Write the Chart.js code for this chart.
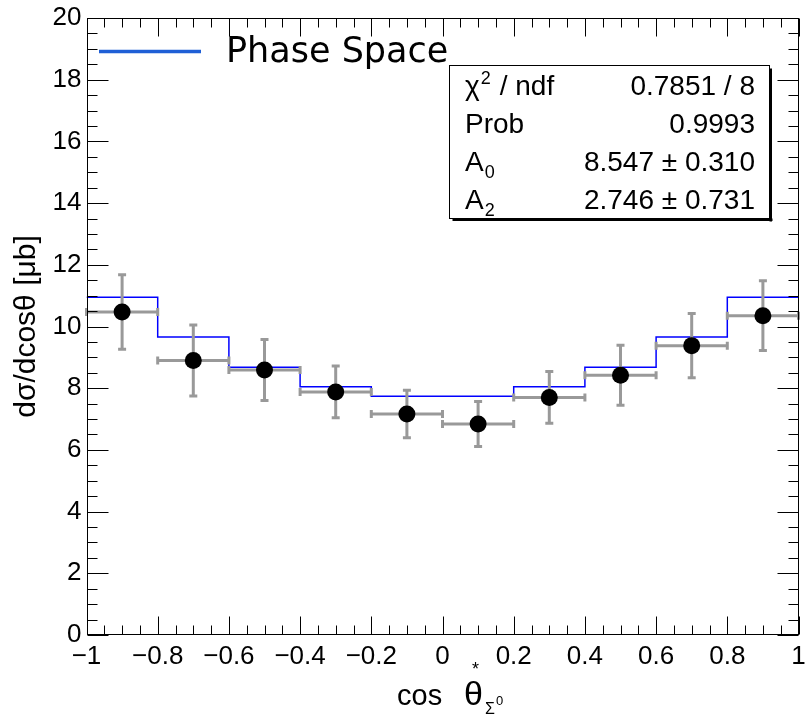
<!DOCTYPE html>
<html lang="en">
<head>
    <meta charset="UTF-8">
    <title>Sigma0 angular distribution</title>
    <script src="https://cdn.jsdelivr.net/npm/chart.js"></script>
    <style>
        body {
            margin: 0;
            background-color: white;
        }
        #plot {
            display: block;
        }
    </style>
</head>
<body>
    <canvas id="plot" width="807" height="715"></canvas>

    <script>
        // Measured points (bin centres, cross section, errors)
        const binCenters = [-0.9, -0.7, -0.5, -0.3, -0.1, 0.1, 0.3, 0.5, 0.7, 0.9];
        const xsec = [10.47, 8.90, 8.59, 7.88, 7.16, 6.84, 7.70, 8.42, 9.38, 10.35];
        const xsecErr = [1.21, 1.15, 0.99, 0.84, 0.77, 0.73, 0.84, 0.97, 1.04, 1.13];
        const xErr = [0.1, 0.1, 0.1, 0.1, 0.1, 0.1, 0.1, 0.1, 0.1, 0.1];

        // Phase space histogram
        const binEdges = [-1, -0.8, -0.6, -0.4, -0.2, 0, 0.2, 0.4, 0.6, 0.8, 1];
        const phaseSpace = [10.95, 9.66, 8.68, 8.05, 7.74, 7.74, 8.05, 8.68, 9.66, 10.95];

        // Fit results box
        const statNames = ['χ', 'Prob', 'A', 'A'];
        const statValues = ['0.7851 / 8', '0.9993', '8.547 ± 0.310', '2.746 ± 0.731'];

        const legendLabel = 'Phase Space';
        const yTitle = 'dσ/dcosθ [μb]';

        const points = binCenters.map((x, i) => ({ x: x, y: xsec[i] }));
        const histPoints = binEdges.map((x, i) => ({ x: x, y: phaseSpace[Math.min(i, phaseSpace.length - 1)] }));

        const HELV = '"Liberation Sans", Arial, sans-serif';

        // error bars with caps, drawn before the markers
        const errorBars = {
            id: 'errorBars',
            beforeDatasetDraw(chart, args) {
                if (args.index !== 0) return;
                const c = chart.ctx, xs = chart.scales.x, ys = chart.scales.y;
                const cap = 4;
                c.save();
                c.strokeStyle = '#999999';
                c.lineWidth = 3;
                binCenters.forEach((x, i) => {
                    const px = xs.getPixelForValue(x);
                    const py = ys.getPixelForValue(xsec[i]);
                    const x1 = xs.getPixelForValue(x - xErr[i]);
                    const x2 = xs.getPixelForValue(x + xErr[i]);
                    const y1 = ys.getPixelForValue(xsec[i] + xsecErr[i]);
                    const y2 = ys.getPixelForValue(xsec[i] - xsecErr[i]);
                    c.beginPath();
                    c.moveTo(x1, py); c.lineTo(x2, py);
                    c.moveTo(px, y1); c.lineTo(px, y2);
                    c.moveTo(x1, py - cap); c.lineTo(x1, py + cap);
                    c.moveTo(x2, py - cap); c.lineTo(x2, py + cap);
                    c.moveTo(px - cap, y1); c.lineTo(px + cap, y1);
                    c.moveTo(px - cap, y2); c.lineTo(px + cap, y2);
                    c.stroke();
                });
                c.restore();
            }
        };

        // frame, inside ticks on all sides, legend, stats box, x title
        const decorations = {
            id: 'decorations',
            beforeDraw(chart) {
                const c = chart.ctx;
                c.save();
                c.fillStyle = 'white';
                c.fillRect(0, 0, chart.width, chart.height);
                c.restore();
            },
            afterDraw(chart) {
                const c = chart.ctx, a = chart.chartArea;
                const xs = chart.scales.x, ys = chart.scales.y;
                const L = Math.round(a.left) + 0.5, R = Math.round(a.right) - 0.5;
                const T = Math.round(a.top) + 0.5, B = Math.round(a.bottom) - 0.5;
                c.save();
                c.strokeStyle = '#000';
                c.lineWidth = 1;
                c.strokeRect(L, T, R - L, B - T);

                c.beginPath();
                for (let i = 0; i <= 40; i++) {
                    const v = -1 + i * 0.05;
                    const px = Math.round(xs.getPixelForValue(v)) + 0.5;
                    const len = i % 4 === 0 ? 18 : 9;
                    c.moveTo(px, B); c.lineTo(px, B - len);
                    c.moveTo(px, T); c.lineTo(px, T + len);
                }
                for (let i = 0; i <= 40; i++) {
                    const v = i * 0.5;
                    const py = Math.round(ys.getPixelForValue(v)) + 0.5;
                    const len = i % 4 === 0 ? 21 : 10;
                    c.moveTo(L, py); c.lineTo(L + len, py);
                    c.moveTo(R, py); c.lineTo(R - len, py);
                }
                c.stroke();

                // legend
                c.strokeStyle = '#1f5fd6';
                c.lineWidth = 3.5;
                c.beginPath();
                c.moveTo(99, 51.5); c.lineTo(201, 51.5);
                c.stroke();
                c.fillStyle = '#000';
                c.font = '35px "DejaVu Sans", sans-serif';
                c.textBaseline = 'alphabetic';
                c.textAlign = 'left';
                c.fillText(legendLabel, 226, 62);

                // stats box
                const bl = 449.5, bt = 65.5, br = 769.5, bb = 218.5;
                c.fillStyle = 'white';
                c.fillRect(bl, bt, br - bl, bb - bt);
                c.fillStyle = '#000';
                c.fillRect(br, bt + 3, 2.5, bb - bt);
                c.fillRect(bl + 3, bb, br - bl, 2.5);
                c.lineWidth = 1;
                c.strokeStyle = '#000';
                c.strokeRect(bl, bt, br - bl, bb - bt);

                const rows = [95, 133, 171, 209];
                rows.forEach((y, i) => {
                    c.textAlign = 'left';
                    c.font = '28px ' + HELV;
                    c.fillText(statNames[i], 465, y);
                    const w = c.measureText(statNames[i]).width;
                    if (i === 0) {
                        c.font = '18px ' + HELV;
                        c.fillText('2', 465 + w + 1, y - 11);
                        c.font = '28px ' + HELV;
                        c.fillText('/ ndf', 465 + w + 20, y);
                    } else if (i >= 2) {
                        c.font = '18px ' + HELV;
                        c.fillText(i === 2 ? '0' : '2', 465 + w + 1, y + 7);
                    }
                    c.font = '28px ' + HELV;
                    c.textAlign = 'right';
                    c.fillText(statValues[i], 755, y);
                });

                // x axis title: cos theta*_{Sigma0}
                c.textAlign = 'left';
                c.font = '29px ' + HELV;
                c.fillText('cos', 397, 705);
                c.font = '34px ' + HELV;
                c.fillText('θ', 464, 705);
                c.font = '18px ' + HELV;
                c.fillText('*', 472, 675);
                c.font = '16px ' + HELV;
                c.fillText('Σ', 485, 714);
                c.font = '13px ' + HELV;
                c.fillText('0', 496, 705);
                c.restore();
            }
        };

        const fmtX = v => {
            const r = Math.round(v * 10) / 10;
            if (r === 0) return '0';
            return r < 0 ? '\u2212' + Math.abs(r) : String(r);
        };

        new Chart(document.getElementById('plot'), {
            type: 'scatter',
            data: {
                datasets: [
                    {
                        type: 'scatter',
                        label: 'data',
                        data: points,
                        pointRadius: 8.5,
                        pointHoverRadius: 8.5,
                        pointBackgroundColor: '#000',
                        pointBorderWidth: 0,
                        order: 0
                    },
                    {
                        type: 'line',
                        label: legendLabel,
                        data: histPoints,
                        stepped: true,
                        borderColor: '#0000ff',
                        borderWidth: 1.5,
                        pointRadius: 0,
                        fill: false,
                        order: 1
                    }
                ]
            },
            options: {
                responsive: false,
                animation: false,
                devicePixelRatio: 1,
                layout: { padding: { left: 0, right: 5, top: 18, bottom: 0 } },
                plugins: {
                    legend: { display: false },
                    tooltip: { enabled: false }
                },
                scales: {
                    x: {
                        type: 'linear',
                        min: -1,
                        max: 1,
                        grid: { display: false, drawTicks: false },
                        border: { display: false },
                        ticks: {
                            stepSize: 0.2,
                            autoSkip: false,
                            maxRotation: 0,
                            padding: 6,
                            color: '#000',
                            font: { family: HELV, size: 26 },
                            callback: fmtX
                        },
                        afterFit(scale) {
                            scale.height = 80;
                            scale.paddingLeft = 0;
                            scale.paddingRight = 0;
                        }
                    },
                    y: {
                        type: 'linear',
                        min: 0,
                        max: 20,
                        grid: { display: false, drawTicks: false },
                        border: { display: false },
                        ticks: {
                            stepSize: 2,
                            padding: 5,
                            color: '#000',
                            font: { family: HELV, size: 26 }
                        },
                        title: {
                            display: true,
                            text: yTitle,
                            color: '#000',
                            font: { family: HELV, size: 30 },
                            padding: { top: 9, bottom: 0 }
                        },
                        afterFit(scale) {
                            scale.width = 86.5;
                            scale.paddingTop = 0;
                            scale.paddingBottom = 0;
                        }
                    }
                }
            },
            plugins: [decorations, errorBars]
        });
    </script>
</body>
</html>
